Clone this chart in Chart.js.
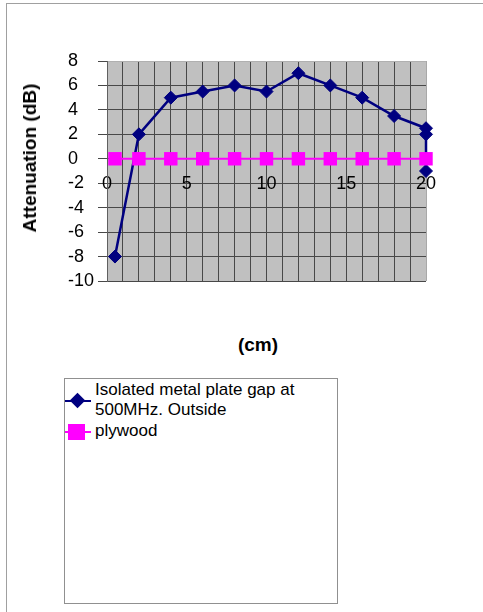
<!DOCTYPE html>
<html>
<head>
<meta charset="utf-8">
<script src="https://cdn.jsdelivr.net/npm/chart.js@4.4.1/dist/chart.umd.min.js"></script>
<style>
    body {
        margin: 0;
        background: #ffffff;
        font-family: "Liberation Sans", Arial, sans-serif;
    }
    .frame {
        position: absolute;
        left: 6px;
        top: 3px;
        width: 480px;
        height: 612px;
        border-left: 1px solid #a0a0a0;
        border-top: 1px solid #a0a0a0;
    }
    #wrap {
        position: absolute;
        left: 0;
        top: 0;
        width: 483px;
        height: 300px;
    }
    .y-title {
        position: absolute;
        left: 30px;
        top: 158px;
        transform: translate(-50%, -50%) rotate(-90deg);
        font-weight: bold;
        font-size: 19px;
        white-space: nowrap;
    }
    .x-title {
        position: absolute;
        left: 258px;
        top: 345px;
        transform: translate(-50%, -50%);
        font-weight: bold;
        font-size: 19px;
    }
    .legend {
        position: absolute;
        left: 64px;
        top: 378px;
        width: 274px;
        height: 226px;
        box-sizing: border-box;
        border: 1px solid #909090;
        font-size: 17px;
        line-height: 20px;
    }
    .legend__item {
        position: relative;
        padding-left: 30px;
    }
    .legend__line {
        position: absolute;
        left: 0;
        width: 26px;
        height: 2px;
    }
    .legend__mark {
        position: absolute;
    }
</style>
</head>
<body>
<div class="frame"></div>
<div id="wrap"><canvas id="chart"></canvas></div>
<div class="y-title">Attenuation (dB)</div>
<div class="x-title">(cm)</div>
<div class="legend">
    <div class="legend__item" style="margin-top: 1px;">
        <div class="legend__line" style="top: 20px; background: #000080;"></div>
        <div class="legend__mark" style="left: 7px; top: 15px; width: 11px; height: 11px; background: #000080; transform: rotate(45deg);"></div>
        Isolated metal plate gap at<br>500MHz. Outside
    </div>
    <div class="legend__item" style="margin-top: 1px;">
        <div class="legend__line" style="top: 10px; background: #ff00ff;"></div>
        <div class="legend__mark" style="left: 3px; top: 3px; width: 17px; height: 16px; background: #ff00ff;"></div>
        plywood
    </div>
</div>
<script>
//данные
const gapX = [0.5, 2, 4, 6, 8, 10, 12, 14, 16, 18, 20, 20, 20];
const gapY = [-8, 2, 5, 5.5, 6, 5.5, 7, 6, 5, 3.5, 2.5, 2, -1];
const plyX = [0.5, 2, 4, 6, 8, 10, 12, 14, 16, 18, 20];
const plyY = [0, 0, 0, 0, 0, 0, 0, 0, 0, 0, 0];
const gapLabel = "Isolated metal plate gap at 500MHz. Outside";
const plyLabel = "plywood";

function toPoints(xs, ys) {
    return xs.map((x, i) => ({ x: x, y: ys[i] }));
}

//серый фон области графика
const plotBackground = {
    id: "plotBackground",
    beforeDraw(chart) {
        const { ctx, chartArea } = chart;
        ctx.save();
        ctx.fillStyle = "#c0c0c0";
        ctx.fillRect(
            chartArea.left,
            chartArea.top,
            chartArea.right - chartArea.left,
            chartArea.bottom - chartArea.top
        );
        ctx.restore();
    },
};

const gridColor = "#484848";

new Chart(document.getElementById("chart"), {
    type: "scatter",
    data: {
        datasets: [
            {
                label: plyLabel,
                data: toPoints(plyX, plyY),
                showLine: true,
                clip: false,
                borderColor: "#ff00ff",
                backgroundColor: "#ff00ff",
                borderWidth: 2,
                pointStyle: "rect",
                pointRadius: 9.5,
                pointHoverRadius: 9.5,
                pointBorderWidth: 0,
            },
            {
                label: gapLabel,
                data: toPoints(gapX, gapY),
                showLine: true,
                clip: false,
                borderColor: "#000080",
                backgroundColor: "#000080",
                borderWidth: 2.5,
                pointStyle: "rectRot",
                pointRadius: 6.5,
                pointHoverRadius: 6.5,
                pointBorderWidth: 1,
            },
        ],
    },
    options: {
        responsive: true,
        maintainAspectRatio: false,
        animation: false,
        layout: {
            padding: { left: 68, top: 61, right: 57, bottom: 19 },
        },
        plugins: {
            legend: { display: false },
            tooltip: { enabled: false },
        },
        scales: {
            x: {
                type: "linear",
                position: { y: 0 },
                min: 0,
                max: 20,
                afterFit(scale) {
                    scale.paddingLeft = 0;
                    scale.paddingRight = 0;
                },
                ticks: {
                    stepSize: 1,
                    autoSkip: false,
                    maxRotation: 0,
                    padding: 6,
                    color: "#000000",
                    font: { family: "Liberation Sans", size: 18 },
                    callback: (v) => (v % 5 === 0 ? v : ""),
                },
                grid: {
                    color: (c) =>
                        c.tick && c.tick.value === 20 ? "#a8a8a8" : gridColor,
                    lineWidth: 1,
                    tickLength: 8,
                    tickColor: gridColor,
                },
                border: { display: true, color: gridColor },
            },
            y: {
                type: "linear",
                min: -10,
                max: 8,
                afterFit(scale) {
                    scale.width = 39;
                    scale.paddingTop = 0;
                    scale.paddingBottom = 0;
                },
                ticks: {
                    stepSize: 2,
                    autoSkip: false,
                    crossAlign: "far",
                    color: "#000000",
                    font: { family: "Liberation Sans", size: 18 },
                },
                grid: {
                    color: (c) =>
                        c.tick && c.tick.value === 8 ? "#b0b0b0" : gridColor,
                    lineWidth: 1,
                    tickLength: 9,
                    tickColor: gridColor,
                },
                border: { display: true, color: "#606060" },
            },
        },
    },
    plugins: [plotBackground],
});
</script>
</body>
</html>
